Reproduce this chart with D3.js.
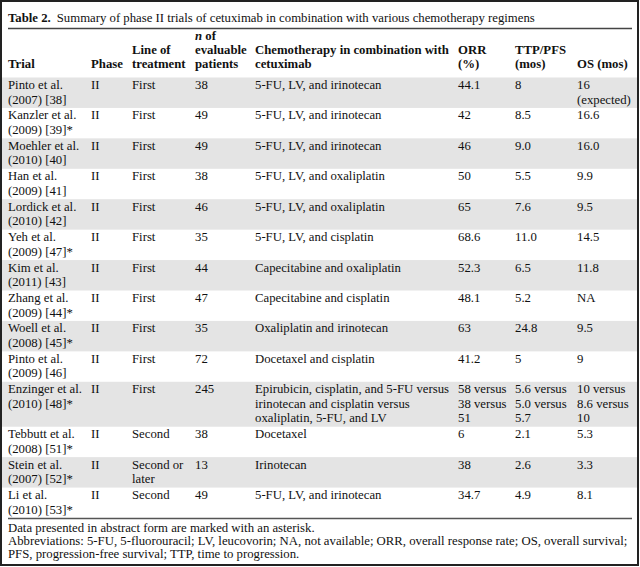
<!DOCTYPE html>
<html>
<head>
<meta charset="utf-8">
<script src="https://cdn.jsdelivr.net/npm/d3@7/dist/d3.min.js"></script>
<style>
  html, body { margin: 0; padding: 0; background: #fff; }
  svg { display: block; }
  text { font-family: "Liberation Serif", "Times New Roman", serif; font-size: 12.75px; fill: #111; }
  .hdr { font-weight: bold; }
</style>
</head>
<body>
<svg id="chart" width="640" height="567"></svg>
<script>
// ---- data ----
const columns = ["trial", "phase", "line", "n", "chemo", "orr", "ttp", "os"];
const headerLines = [
  ["", "", "", "<i>n</i> of", "", "", "", ""],
  ["", "", "Line of", "evaluable", "Chemotherapy in combination with", "ORR", "TTP/PFS", ""],
  ["Trial", "Phase", "treatment", "patients", "cetuximab", "(%)", "(mos)", "OS (mos)"]
];
const trial = [
  ["Pinto et al.", "(2007) [38]"], ["Kanzler et al.", "(2009) [39]*"], ["Moehler et al.", "(2010) [40]"],
  ["Han et al.", "(2009) [41]"], ["Lordick et al.", "(2010) [42]"], ["Yeh et al.", "(2009) [47]*"],
  ["Kim et al.", "(2011) [43]"], ["Zhang et al.", "(2009) [44]*"], ["Woell et al.", "(2008) [45]*"],
  ["Pinto et al.", "(2009) [46]"], ["Enzinger et al.", "(2010) [48]*"], ["Tebbutt et al.", "(2008) [51]*"],
  ["Stein et al.", "(2007) [52]*"], ["Li et al.", "(2010) [53]*"]
];
const phase = ["II","II","II","II","II","II","II","II","II","II","II","II","II","II"];
const lineOfTreatment = [["First"],["First"],["First"],["First"],["First"],["First"],["First"],["First"],["First"],["First"],["First"],["Second"],["Second or","later"],["Second"]];
const nPatients = ["38","49","49","38","46","35","44","47","35","72","245","38","13","49"];
const chemo = [
  ["5-FU, LV, and irinotecan"], ["5-FU, LV, and irinotecan"], ["5-FU, LV, and irinotecan"],
  ["5-FU, LV, and oxaliplatin"], ["5-FU, LV, and oxaliplatin"], ["5-FU, LV, and cisplatin"],
  ["Capecitabine and oxaliplatin"], ["Capecitabine and cisplatin"], ["Oxaliplatin and irinotecan"],
  ["Docetaxel and cisplatin"],
  ["Epirubicin, cisplatin, and 5-FU versus", "irinotecan and cisplatin versus", "oxaliplatin, 5-FU, and LV"],
  ["Docetaxel"], ["Irinotecan"], ["5-FU, LV, and irinotecan"]
];
const orr = [["44.1"],["42"],["46"],["50"],["65"],["68.6"],["52.3"],["48.1"],["63"],["41.2"],["58 versus","38 versus","51"],["6"],["38"],["34.7"]];
const ttp = [["8"],["8.5"],["9.0"],["5.5"],["7.6"],["11.0"],["6.5"],["5.2"],["24.8"],["5"],["5.6 versus","5.0 versus","5.7"],["2.1"],["2.6"],["4.9"]];
const os = [["16","(expected)"],["16.6"],["16.0"],["9.9"],["9.5"],["14.5"],["11.8"],["NA"],["9.5"],["9"],["10 versus","8.6 versus","10"],["5.3"],["3.3"],["8.1"]];
const titleBold = "Table 2.";
const titleRest = "Summary of phase II trials of cetuximab in combination with various chemotherapy regimens";
const footnotes = [
  "Data presented in abstract form are marked with an asterisk.",
  "Abbreviations: 5-FU, 5-fluorouracil; LV, leucovorin; NA, not available; ORR, overall response rate; OS, overall survival;",
  "PFS, progression-free survival; TTP, time to progression."
];

// ---- layout ----
const W = 640, H = 567;
const svg = d3.select("#chart");
const xCol = d3.scaleOrdinal().domain(columns).range([8, 91, 132, 195, 255, 458, 515, 577]);

const rows = trial.map((t, i) => {
  const cells = [t, [phase[i]], lineOfTreatment[i], [nPatients[i]], chemo[i], orr[i], ttp[i], os[i]];
  const nLines = Math.max(...cells.map(c => c.length));
  return { i, cells, nLines };
});
let acc = 0;
rows.forEach(r => { r.start = acc; acc += r.nLines; r.end = acc; });
const tableTop = 77.5, tableBottom = 518;
const lineH = 14.5, rowPad = (tableBottom - tableTop - acc * lineH) / rows.length;
const yRow = i => tableTop + rows[i].start * lineH + i * rowPad;

// frame
svg.append("rect").attr("x", 1).attr("y", 1).attr("width", W - 3).attr("height", H - 3)
  .attr("fill", "#fff").attr("stroke", "#222").attr("stroke-width", 2);

// row backgrounds
rows.forEach(r => {
  r.y0 = yRow(r.i);
  r.y1 = r.i < rows.length - 1 ? yRow(r.i + 1) : tableBottom;
});
svg.append("g").selectAll("rect").data(rows.filter(r => r.i % 2 === 0)).join("rect")
  .attr("x", 2).attr("y", r => r.y0).attr("width", W - 5).attr("height", r => r.y1 - r.y0)
  .attr("fill", "#e4e4e4");

// title
const title = svg.append("text").attr("x", 8).attr("y", 22);
title.append("tspan").attr("font-weight", "bold").text(titleBold);
title.append("tspan").attr("dx", 6).text(titleRest);

// rules
svg.append("line").attr("x1", 8).attr("x2", 632).attr("y1", 28.5).attr("y2", 28.5).attr("stroke", "#444").attr("stroke-width", 1.6);
svg.append("line").attr("x1", 8).attr("x2", 632).attr("y1", tableBottom + 0.5).attr("y2", tableBottom + 0.5).attr("stroke", "#555").attr("stroke-width", 1.4);

// header
const hdrBase = [40, 54, 68];
headerLines.forEach((line, li) => {
  line.forEach((txt, ci) => {
    if (!txt) return;
    const t = svg.append("text").attr("class", "hdr").attr("x", xCol(columns[ci])).attr("y", hdrBase[li]);
    if (txt.startsWith("<i>n</i>")) {
      t.append("tspan").attr("font-style", "italic").text("n");
      t.append("tspan").text(" of");
    } else t.text(txt);
  });
});

// body cells
const g = svg.append("g");
rows.forEach(r => {
  r.cells.forEach((lines, ci) => {
    lines.forEach((txt, li) => {
      g.append("text").attr("x", xCol(columns[ci])).attr("y", r.y0 + 11.5 + li * lineH).text(txt);
    });
  });
});

// footnotes
const fnBase = [531.5, 544.5, 557.5];
svg.append("g").selectAll("text").data(footnotes).join("text")
  .attr("x", 8).attr("y", (d, i) => fnBase[i]).text(d => d);
</script>
</body>
</html>
